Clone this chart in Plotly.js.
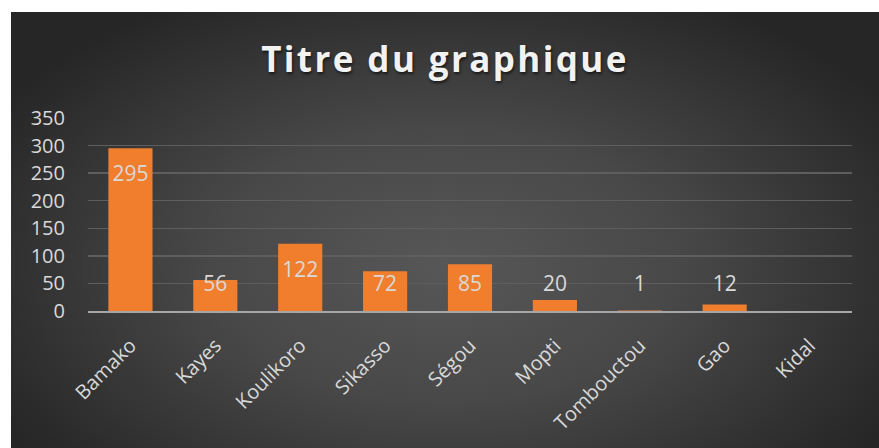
<!DOCTYPE html>
<html>
<head>
<meta charset="utf-8">
<script src="https://cdn.plot.ly/plotly-3.0.1.min.js"></script>
<style>
html,body{margin:0;padding:0;background:#ffffff;width:879px;height:448px;overflow:hidden;}
#chart{position:absolute;left:11px;top:12px;width:868px;height:436px;
background:radial-gradient(ellipse 60% 70% at 50% 58%, #575757 0%, #484848 45%, #2c2c2c 90%, #262626 100%);}
#chart .gtitle{letter-spacing:2.4px;}
</style>
</head>
<body>
<div id="chart"></div>
<script>
const categories = ["Bamako","Kayes","Koulikoro","Sikasso","Ségou","Mopti","Tombouctou","Gao","Kidal"];
const values = [295, 56, 122, 72, 85, 20, 1, 12, null];
const labels = ["295","56","122","72","85","20","1","12",""];
const yTicks = [0,50,100,150,200,250,300,350];

const FONT = "Open Sans, Lato, sans-serif";
const txtColor = "#d9d9d9";

// label placement (Excel-like): near bar top, never lower than a fixed floor
const labelY = values.map(v => v === null ? null : Math.max(v - 50.5, 45));

const bars = {
  type: "bar",
  x: categories,
  y: values,
  marker: {color: "#f07e2c", line: {width: 0}},
  hoverinfo: "x+y"
};

const valueLabels = {
  type: "scatter",
  mode: "text",
  x: categories,
  y: labelY,
  text: labels,
  textposition: "middle center",
  textfont: {family: FONT, size: 21, color: txtColor},
  cliponaxis: false,
  hoverinfo: "skip"
};

const layout = {
  width: 868, height: 436,
  paper_bgcolor: "rgba(0,0,0,0)",
  plot_bgcolor: "rgba(0,0,0,0)",
  margin: {l: 77, r: 27, t: 105.7, b: 137},
  bargap: 0.48,
  showlegend: false,
  title: {
    text: "Titre du graphique",
    x: 0.5, xanchor: "center",
    y: 0.89, yanchor: "middle",
    yref: "container",
    font: {family: FONT, size: 35, color: "#f2f2f2", weight: 700, shadow: "1px 2px 3px rgba(0,0,0,0.6)"}
  },
  xaxis: {
    type: "category",
    tickangle: -45,
    tickfont: {family: FONT, size: 20, color: txtColor},
    showgrid: false,
    showline: true,
    linecolor: "#a6a6a6",
    linewidth: 2,
    ticks: "",
    zeroline: false,
    ticklabelstandoff: 13
  },
  yaxis: {
    range: [0, 350],
    tickvals: yTicks,
    ticktext: yTicks.map(String),
    tickfont: {family: FONT, size: 20, color: txtColor},
    showgrid: true,
    gridcolor: "#5e5e5e",
    gridwidth: 1.3,
    zeroline: false,
    showline: false,
    ticks: "",
    ticklabelstandoff: 22
  }
};

Plotly.newPlot("chart", [bars, valueLabels], layout, {displayModeBar: false, staticPlot: true});
</script>
</body>
</html>
